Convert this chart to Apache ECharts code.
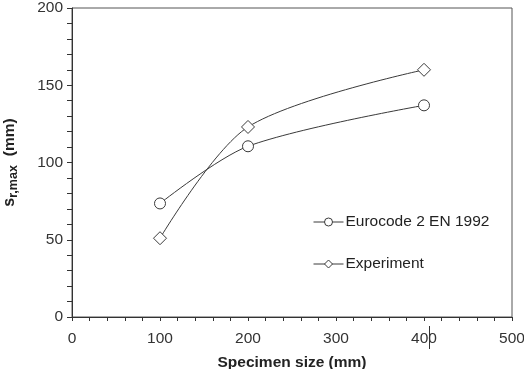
<!DOCTYPE html>
<html>
<head>
<meta charset="utf-8">
<script src="https://cdn.jsdelivr.net/npm/echarts@6/dist/echarts.min.js"></script>
<style>
  html, body { margin: 0; padding: 0; background: #fff; }
  #chart { width: 524px; height: 369px; }
</style>
</head>
<body>
<div id="chart"></div>
<script>
// Crack spacing vs. specimen size
const specimenSizes = [100, 200, 400];
const eurocodeValues = [73.5, 110.5, 137];
const experimentValues = [51, 123, 160];
const seriesNames = ['Eurocode 2 EN 1992', 'Experiment'];

const chart = echarts.init(document.getElementById('chart'), null, { renderer: 'canvas' });
const lineColor = '#3a3a3a';
const font = 'Liberation Sans, Arial, sans-serif';

function pairs(xs, ys) { return xs.map((x, i) => [x, ys[i]]); }

chart.setOption({
  animation: false,
  backgroundColor: '#fff',
  grid: {
    left: 72, top: 8, right: 12, bottom: 52,
    containLabel: false, outerBoundsMode: 'none',
    show: true, borderColor: '#555', borderWidth: 1
  },
  legend: {
    orient: 'vertical', left: 308, top: 209, itemWidth: 30, itemHeight: 10, itemGap: 26,
    lineStyle: { width: 1 },
    itemStyle: { borderWidth: 1 },
    textStyle: { fontFamily: font, fontSize: 15.5, color: '#222', padding: [0, 0, 0, -3] },
    data: seriesNames
  },
  xAxis: {
    type: 'value', min: 0, max: 500, interval: 100,
    name: 'Specimen size (mm)', nameLocation: 'middle', nameGap: 38,
    nameTextStyle: { fontFamily: font, fontSize: 15.5, fontWeight: 'bold', color: '#222' },
    axisLine: { lineStyle: { color: '#333', width: 1 } },
    axisTick: { length: 4, lineStyle: { color: '#333' } },
    minorTick: { show: true, splitNumber: 5, length: 4, lineStyle: { color: '#333' } },
    splitLine: { show: false },
    axisLabel: { fontFamily: font, fontSize: 15.5, color: '#333', margin: 14 }
  },
  yAxis: {
    type: 'value', min: 0, max: 200, interval: 50,
    name: '{s|s}{sub|r,max}{gap|(mm)}', nameLocation: 'middle', nameGap: 52, nameRotate: 90,
    nameTextStyle: {
      rich: {
        s: { fontFamily: font, fontSize: 16, fontWeight: 'bold', color: '#222' },
        sub: { fontFamily: font, fontSize: 12.5, fontWeight: 'bold', color: '#222', verticalAlign: 'bottom', padding: [7, 0, 0, 0] },
        gap: { fontFamily: font, fontSize: 15.5, fontWeight: 'bold', color: '#222', padding: [0, 0, 0, 9] }
      }
    },
    axisLine: { show: true, lineStyle: { color: '#333', width: 1 } },
    axisTick: { show: true, length: 5, lineStyle: { color: '#333' } },
    minorTick: { show: true, splitNumber: 5, length: 5, lineStyle: { color: '#333' } },
    splitLine: { show: false },
    axisLabel: { fontFamily: font, fontSize: 15.5, color: '#333', margin: 9 }
  },
  series: [
    {
      name: seriesNames[0], type: 'line', smooth: 0.3,
      data: pairs(specimenSizes, eurocodeValues),
      symbol: 'circle', symbolSize: 11,
      lineStyle: { color: lineColor, width: 1 },
      itemStyle: { color: '#fff', borderColor: lineColor, borderWidth: 1 }
    },
    {
      name: seriesNames[1], type: 'line', smooth: 0.3,
      data: pairs(specimenSizes, experimentValues),
      symbol: 'diamond', symbolSize: 13,
      lineStyle: { color: lineColor, width: 1 },
      itemStyle: { color: '#fff', borderColor: lineColor, borderWidth: 1 }
    }
  ],
  graphic: [
    { type: 'line', shape: { x1: 429.5, y1: 326, x2: 429.5, y2: 349 }, style: { stroke: '#333', lineWidth: 1 } }
  ]
});
</script>
</body>
</html>
